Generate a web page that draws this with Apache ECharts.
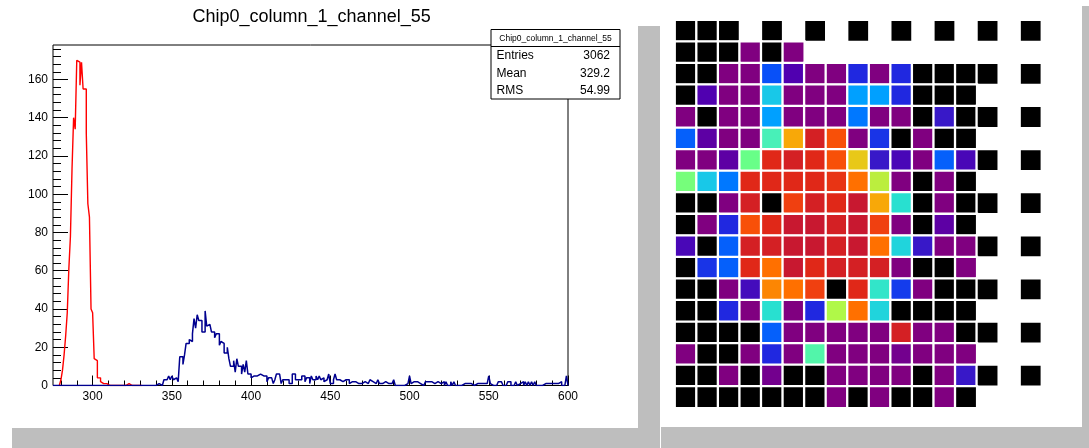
<!DOCTYPE html>
<html><head><meta charset="utf-8">
<script src="https://cdn.jsdelivr.net/npm/echarts@6/dist/echarts.min.js"></script>
<style>html,body{margin:0;padding:0;background:#fff}#c{width:1089px;height:448px}</style>
</head><body><div id="c"></div>
<script>
// ---------- Histogram data (1-unit bins) ----------
const titleText = 'Chip0_column_1_channel_55';
const statsLabels = ['Entries', 'Mean', 'RMS'];
const statsValues = ['3062', '329.2', '54.99'];

const xMin = 275, xMax = 600, yMax = 178;
const xTickValues = [300, 350, 400, 450, 500, 550, 600];
const yTickValues = [0, 20, 40, 60, 80, 100, 120, 140, 160];

// red histogram, first bin at 279
const redStart = 279;
const redCounts = [
  1, 3, 8, 16, 26, 38, 61, 78, 113, 140,
  134, 170, 169, 157, 169, 155, 155, 132, 95, 88,
  40, 38, 14, 13, 4, 4, 2, 1, 0, 1,
  1, 0, 1, 0, 0, 0, 1, 0, 0, 0,
  0, 0, 0, 1, 0, 0, 0, 0, 0, 0,
  1, 0
];

// blue histogram, first bin at 340 (empty from 275)
const blueStart = 340;
const blueCounts = [
  0, 1, 1, 0, 1, 3, 3, 2, 5, 3,
  5, 3, 4, 4, 2, 15, 15, 11, 16, 22,
  22, 24, 23, 27, 35, 30, 37, 34, 34, 28,
  28, 39, 31, 32, 32, 28, 28, 25, 27, 27,
  21, 23, 22, 17, 17, 20, 14, 10, 10, 13,
  7, 14, 10, 10, 6, 11, 7, 13, 6, 6,
  4, 5, 5, 5, 5, 6, 5, 5, 5, 5,
  2, 4, 4, 4, 1, 3, 6, 6, 6, 1,
  3, 3, 3, 3, 1, 1, 6, 6, 3, 3,
  3, 3, 5, 5, 2, 4, 4, 1, 5, 3,
  3, 5, 3, 5, 3, 4, 2, 3, 3, 6,
  1, 1, 3, 6, 3, 3, 2, 2, 3, 3,
  3, 3, 1, 2, 2, 2, 1, 1, 2, 1,
  1, 2, 2, 1, 1, 3, 2, 2, 1, 1,
  3, 1, 1, 2, 2, 1, 1, 2, 1, 1,
  3, 0, 0, 0, 0, 0, 0, 0, 1, 2,
  5, 1, 2, 1, 2, 2, 1, 1, 0, 0,
  2, 2, 1, 2, 2, 1, 1, 2, 3, 1,
  1, 2, 0, 2, 0, 0, 2, 0, 2, 0,
  0, 0, 0, 0, 1, 1, 1, 1, 1, 0,
  0, 0, 1, 1, 1, 0, 1, 1, 1, 1,
  5, 1, 0, 0, 0, 0, 2, 2, 2, 0,
  0, 0, 2, 2, 0, 0, 0, 2, 0, 1,
  0, 2, 0, 2, 0, 2, 0, 2, 0, 2,
  0, 0, 0, 0, 1, 1, 0, 1, 0, 1,
  0, 1, 0, 1, 0, 2, 0, 0, 0, 5
];

// ---------- Heatmap data (18 rows x 17 columns, null = empty) ----------
const N = null;
const cellValues = [
  [0,0,0,N,0,N,0,N,0,N,0,N,0,N,0,N,0],
  [0,0,0,1,0,1,N,N,N,N,N,N,N,N,N,N,N],
  [0,0,1,1,6,3,1,1,5,1,5,0,0,0,0,N,0],
  [0,3,1,1,9,1,1,1,8,8,5,0,0,0,N,N,N],
  [1,0,1,1,8,1,1,1,7,1,1,0,4,0,0,N,0],
  [6.4,2.5,1,1,11,15,19.5,17,1,5.3,0,1,0,0,N,N,N],
  [1,1,2.5,12,19,19.5,19,17,14,4,3.3,1,6.4,3.3,0,N,0],
  [12.2,9,7,19,19,19,19,18.5,16,13.2,1,0,1,0,N,N,N],
  [0,0,1,19.5,0,18,19.5,19,20,15,10,0,1,0,0,N,0],
  [0,1,5,17,19,20,20,19.5,20,18,1,0,2.5,0,N,N,N],
  [3.3,0,6.4,19.5,19.5,20,20,19.5,20,16,9.5,4,1,1,0,N,0],
  [0,5.3,6.4,19,16,20,19,19.5,19.5,19.5,1,0,0,1,N,N,N],
  [0,0,1,3.5,15.6,16,18,0,19,10.3,5.5,1,0,0,0,N,0],
  [0,0,5,1,10,1,5,13,16,9.5,0,0,0,0,N,N,N],
  [0,0,0,0,6.4,1,1,1,1,1,19.5,1,1,0,0,N,0],
  [1,0,0,1,5,1,11.3,1,1,1,1.6,1,1,1,N,N,N],
  [0,0,1,0,1.6,0,0,1,1,1,1,0,1,4,0,N,0],
  [0,0,0,0,0,0,0,1,0,1,0,0,1,0,N,N,N]
];
const paletteColors = [
  '#000000', '#800080', '#6a0098', '#5000b0', '#3818c8', '#2028e0', '#0850f8',
  '#0078ff', '#00a0ff', '#18c8e8', '#28e0d0', '#48f0b8', '#68ff88', '#b0f848',
  '#e8c818', '#f8a808', '#ff7000', '#f85008', '#f04010', '#e02818', '#c81830'
];

// ---------- build ----------
function histPoints(start, counts, from, to) {
  const pts = [[from, 0]];
  counts.forEach((v, i) => pts.push([start + i, v]));
  pts.push([to, counts[counts.length - 1]]);
  pts.push([to, 0]);
  return pts;
}
const xMinor = [];
for (let v = 280; v <= 600; v += 10) xMinor.push(v);
const yMinor = [];
for (let v = 0; v <= 176; v += 4) yMinor.push(v);

const heatData = [];
cellValues.forEach((row, r) => row.forEach((v, c) => { if (v !== null) heatData.push([c, r, v]); }));
const colCats = cellValues[0].map((_, i) => String(i));
const rowCats = cellValues.map((_, i) => String(i));

const FF = 'Liberation Sans, Arial, sans-serif';
const chart = echarts.init(document.getElementById('c'), null, { renderer: 'canvas' });
const bx = 491, by = 29.5, bw = 129, bh = 69.5;
const graphics = [
  { type: 'rect', shape: { x: 638, y: 26, width: 22, height: 422 }, style: { fill: '#bebebe' }, z: 1 },
  { type: 'rect', shape: { x: 12, y: 428, width: 648, height: 20 }, style: { fill: '#bebebe' }, z: 1 },
  { type: 'rect', shape: { x: 1082, y: 6, width: 7, height: 442 }, style: { fill: '#bebebe' }, z: 1 },
  { type: 'rect', shape: { x: 661, y: 427, width: 428, height: 21 }, style: { fill: '#bebebe' }, z: 1 },
  { type: 'text', x: 311.6, y: 17.5, style: { text: titleText, font: '18px ' + FF, fill: '#000', textAlign: 'center', textVerticalAlign: 'middle' }, z: 50 },
  { type: 'rect', shape: { x: bx, y: by, width: bw, height: bh }, style: { fill: '#fff', stroke: '#000', lineWidth: 1 }, z: 100 },
  { type: 'line', shape: { x1: bx, y1: 46.5, x2: bx + bw, y2: 46.5 }, style: { stroke: '#000', lineWidth: 1 }, z: 101 },
  { type: 'text', x: bx + bw / 2, y: 38.5, style: { text: titleText, font: '8.5px ' + FF, fill: '#000', textAlign: 'center', textVerticalAlign: 'middle' }, z: 101 }
];
const rowY = [56, 73.5, 91];
statsLabels.forEach((t, i) => {
  graphics.push({ type: 'text', x: 496.5, y: rowY[i], style: { text: t, font: '12px ' + FF, fill: '#000', textAlign: 'left', textVerticalAlign: 'middle' }, z: 101 });
  graphics.push({ type: 'text', x: 610, y: rowY[i], style: { text: statsValues[i], font: '12px ' + FF, fill: '#000', textAlign: 'right', textVerticalAlign: 'middle' }, z: 101 });
});

chart.setOption({
  animation: false,
  backgroundColor: '#fff',
  grid: [
    { left: 53, top: 45, width: 515, height: 340.5, show: true, borderColor: '#000', borderWidth: 1, backgroundColor: 'transparent' },
    { left: 675, top: 20, width: 366.5, height: 388 }
  ],
  xAxis: [
    { gridIndex: 0, type: 'value', min: xMin, max: xMax, position: 'bottom',
      axisLine: { show: false }, splitLine: { show: false },
      axisTick: { show: true, inside: true, length: 10, customValues: xTickValues, lineStyle: { color: '#000', width: 1 } },
      axisLabel: { customValues: xTickValues, color: '#000', fontSize: 12, fontFamily: FF, margin: 5 } },
    { gridIndex: 0, type: 'value', min: xMin, max: xMax, position: 'bottom',
      axisLine: { show: false }, splitLine: { show: false },
      axisTick: { show: true, inside: true, length: 5, customValues: xMinor, lineStyle: { color: '#000', width: 1 } },
      axisLabel: { show: false } },
    { gridIndex: 1, type: 'category', data: colCats, show: false }
  ],
  yAxis: [
    { gridIndex: 0, type: 'value', min: 0, max: yMax, position: 'left',
      axisLine: { show: false }, splitLine: { show: false },
      axisTick: { show: true, inside: true, length: 15, customValues: yTickValues, lineStyle: { color: '#000', width: 1 } },
      axisLabel: { customValues: yTickValues, color: '#000', fontSize: 12, fontFamily: FF, margin: 5 } },
    { gridIndex: 0, type: 'value', min: 0, max: yMax, position: 'left',
      axisLine: { show: false }, splitLine: { show: false },
      axisTick: { show: true, inside: true, length: 8, customValues: yMinor, lineStyle: { color: '#000', width: 1 } },
      axisLabel: { show: false } },
    { gridIndex: 1, type: 'category', data: rowCats, inverse: true, show: false }
  ],
  visualMap: {
    type: 'continuous', min: 0, max: 20, seriesIndex: 2, show: false,
    inRange: { color: paletteColors }
  },
  series: [
    { type: 'line', xAxisIndex: 0, yAxisIndex: 0, step: 'end', showSymbol: false, silent: true,
      data: histPoints(redStart, redCounts, redStart, redStart + redCounts.length),
      lineStyle: { color: '#ff0000', width: 1.4 }, z: 3 },
    { type: 'line', xAxisIndex: 0, yAxisIndex: 0, step: 'end', showSymbol: false, silent: true,
      data: histPoints(blueStart, blueCounts, xMin, blueStart + blueCounts.length),
      lineStyle: { color: '#00008f', width: 1.5 }, z: 4 },
    { type: 'heatmap', xAxisIndex: 2, yAxisIndex: 2, data: heatData, silent: true,
      itemStyle: { borderColor: '#ffffff', borderWidth: 2.3 } }
  ],
  graphic: graphics
});
</script></body></html>
